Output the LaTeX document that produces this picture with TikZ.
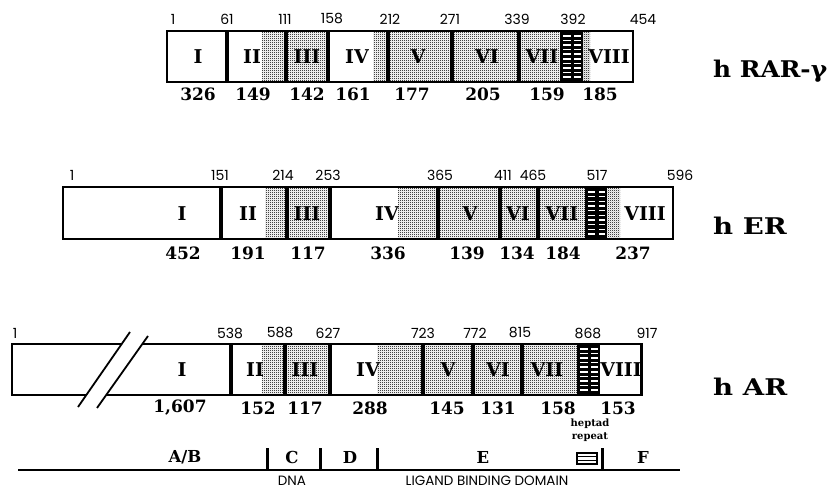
\documentclass[tikz,border=0pt]{standalone}
\usepackage{fontspec}
\usepackage{graphicx}
\setmainfont{DejaVu Serif}
\newfontfamily\sansnum{Poppins}
\usetikzlibrary{patterns}

% stipple used for the shaded parts of the exons
\pgfdeclarepatternformonly{finedots}{\pgfpointorigin}{\pgfqpoint{2pt}{2pt}}{\pgfqpoint{2pt}{2pt}}{%
  \pgfpathcircle{\pgfqpoint{0.5pt}{0.5pt}}{0.62pt}%
  \pgfpathcircle{\pgfqpoint{1.5pt}{1.5pt}}{0.62pt}%
  \pgfusepath{fill}}

\tikzset{
  barline/.style={line width=1.8pt},
  divider/.style={line width=3.4pt},
  stipple/.style={pattern=finedots, pattern color=black!90},
  topnum/.style={font=\sansnum\fontsize{14}{14}\selectfont, inner sep=0pt},
  lennum/.style={font=\fontsize{17}{17}\selectfont\bfseries, inner sep=0pt},
  roman/.style={font=\fontsize{19}{19}\selectfont\bfseries, inner sep=0pt},
  species/.style={font=\fontsize{23}{23}\selectfont\bfseries, inner sep=0pt, anchor=west},
  domletter/.style={font=\fontsize{16.5}{16.5}\selectfont\bfseries, inner sep=0pt},
  regiontext/.style={font=\sansnum\fontsize{13.5}{13.5}\selectfont, inner sep=0pt},
  heptlabel/.style={font=\fontsize{10}{12.5}\selectfont\bfseries, inner sep=0pt, align=center},
}

% wide setting for the receptor names
\newcommand\widename[2][1.2]{\scalebox{#1}[1]{#2}}

% heptad repeat block: black band with two columns of white dashes
% #1 left, #2 right, #3 top, #4 bottom
\newcommand\heptadblock[4]{%
  \fill[black] (#1,#3) rectangle (#2,#4);
  \pgfmathsetmacro\hepw{#2-#1}
  \foreach \k in {0,...,9}{
    \pgfmathsetmacro\hepy{#3+5+\k*((#4-#3-10)/9)}
    \fill[white] ({#1+2.5},{\hepy-0.8}) rectangle ({#1+0.47*\hepw},{\hepy+0.8});
    \fill[white] ({#1+0.62*\hepw},{\hepy-0.8}) rectangle ({#2-2.5},{\hepy+0.8});
  }
}

\begin{document}
\begin{tikzpicture}[x=1pt,y=-1pt]
\useasboundingbox[fill=white] (0,0) rectangle (828,489);

% ---------------- h RAR-gamma ----------------
\fill[stipple] (262,31) rectangle (328,82);
\fill[stipple] (373,31) rectangle (560,82);
\fill[stipple] (583,31) rectangle (590,82);
\heptadblock{560}{583}{31}{82}
\draw[barline] (167,31) rectangle (633,82);
\foreach \x in {227,286,328,388,452,519} \draw[divider] (\x,31) -- (\x,82);

\foreach \x/\t in {173/1,227/61,285/111,332/158,390/212,450/271,517/339,573/392,643/454}
  \node[topnum] (rarT\x) at (\x,19) {\t};
\foreach \x/\t in {198/I,252/II,307/III,357/IV,418/V,487/VI,542/VII,609/VIII}
  \node[roman] (rarR\x) at (\x,57) {\t};
\foreach \x/\t in {198/326,253/149,307/142,353/161,412/177,483/205,547/159,600/185}
  \node[lennum] (rarL\x) at (\x,94) {\t};
\node[species] (rar) at (713,71) {\widename[1.08]{h RAR-γ}};

% ---------------- h ER ----------------
\fill[stipple] (265,187) rectangle (330,239);
\fill[stipple] (398,187) rectangle (585,239);
\fill[stipple] (607,187) rectangle (620,239);
\heptadblock{585}{607}{187}{239}
\draw[barline] (63,187) rectangle (673,239);
\foreach \x in {221,287,330,438,500,538} \draw[divider] (\x,187) -- (\x,239);

\foreach \x/\t in {72/1,220/151,283/214,328/253,440/365,503/411,533/465,597/517,680/596}
  \node[topnum] (erT\x) at (\x,175) {\t};
\foreach \x/\t in {182/I,248/II,307/III,387/IV,470/V,518/VI,562/VII,645/VIII}
  \node[roman] (erR\x) at (\x,214) {\t};
\foreach \x/\t in {183/452,248/191,308/117,388/336,467/139,517/134,563/184,633/237}
  \node[lennum] (erL\x) at (\x,253) {\t};
\node[species] (er) at (713,226) {\widename{h ER}};

% ---------------- h AR ----------------
\fill[stipple] (262,344) rectangle (330,395);
\fill[stipple] (377,344) rectangle (577,395);
\heptadblock{577}{600}{344}{395}
\draw[barline] (12,344) rectangle (642,395);
\foreach \x in {231,285,330,423,473,522} \draw[divider] (\x,344) -- (\x,395);
\draw[line width=3pt] (641,344) -- (641,395);
% break in the first exon
\fill[white] (130,332) -- (148,336) -- (97,408) -- (78,407) -- cycle;
\draw[line width=1.8pt] (130,332) -- (78,407);
\draw[line width=1.8pt] (148,336) -- (97,408);

\foreach \x/\t in {15/1,230/538,280/588,328/627,423/723,475/772,520/815,588/868,647/917}
  \node[topnum] (arT\x) at (\x,333) {\t};
\foreach \x/\t in {182/I,255/II,305/III,368/IV,448/V,498/VI,547/VII,621/VIII}
  \node[roman] (arR\x) at (\x,370) {\t};
\foreach \x/\t in {180/{1,607},258/152,305/117,370/288,447/145,498/131,558/158,618/153}
  \node[lennum] (arL\x) at (\x,408) {\t};
\node[species] (ar) at (713,387) {\widename{h AR}};
\node[heptlabel] (hept) at (590,430) {heptad\\repeat};

% ---------------- domain axis ----------------
\coordinate (axL) at (18,470);
\coordinate (axR) at (680,470);
\draw[line width=1.3pt] (axL) -- (axR);
\foreach \x in {267,320,377,602} \draw[line width=3pt] (\x,448) -- (\x,470);
\draw[line width=1.2pt] (577,453) rectangle (597,464);
\draw[line width=1pt] (577,456.7) -- (597,456.7) (577,460.3) -- (597,460.3);

\node[domletter] (dAB) at (185,457) {A/B};
\node[domletter] (dC) at (292,457) {C};
\node[domletter] (dD) at (350,457) {D};
\node[domletter] (dE) at (483,457) {E};
\node[domletter] (dF) at (643,457) {F};
\node[regiontext] (dna) at (292,481) {DNA};
\node[regiontext] (lbd) at (487,481) {LIGAND BINDING DOMAIN};
\end{tikzpicture}
\end{document}
